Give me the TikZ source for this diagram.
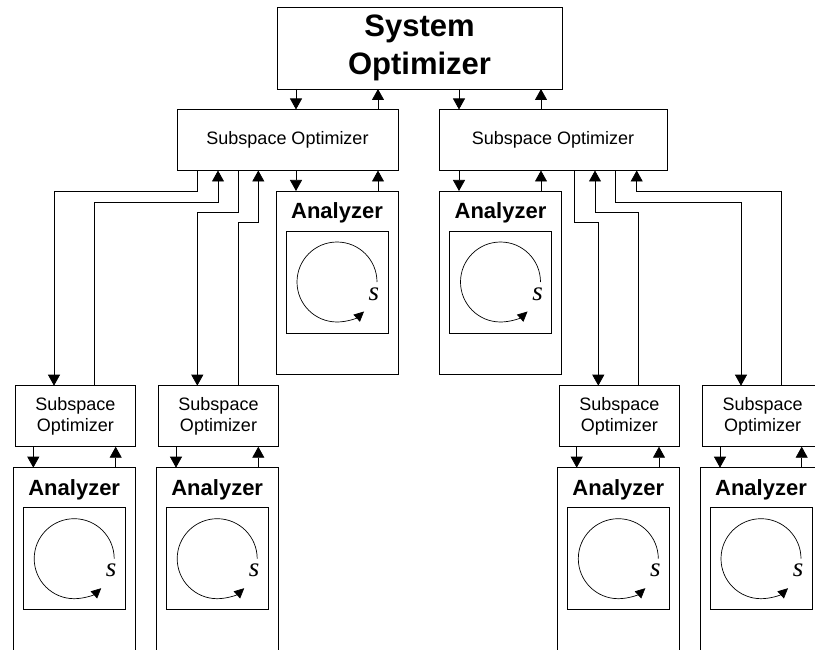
\documentclass[tikz,border=0pt]{standalone}
\usepackage{fontspec}
\setmainfont{Liberation Sans}
\newfontfamily\serifit{Liberation Serif}
\usetikzlibrary{arrows.meta,calc}

% one analyzer block: outer frame, title, inner frame with a looping arrow
% #1 name, #2 centre x, #3 top y, #4 height
\newcommand{\analyzerunit}[4]{%
  \node[box, minimum width=122pt, minimum height=#4pt, anchor=north] (#1) at (#2,#3) {};
  \node[anatitle] (#1t) at ($(#1.north)+(0,22)$) {Analyzer};
  \node[box, minimum width=102pt, minimum height=102pt] (#1c) at ($(#1.north)+(0,91)$) {};
  \draw[looparr] ($(#1c.center)+(40,0)$) arc[start angle=0, end angle=-312.5, radius=40];
  \node[slabel] (#1s) at ($(#1c.center)+(37,12)$) {s};
}

\begin{document}
\begin{tikzpicture}[x=1pt, y=-1pt, line width=0.75pt,
  box/.style={draw, inner sep=0pt, outer sep=0pt},
  bigtext/.style={font=\bfseries\fontsize{31}{38}\selectfont, align=center},
  subtext/.style={font=\fontsize{18}{21.7}\selectfont, align=center},
  anatitle/.style={font=\bfseries\fontsize{22}{26}\selectfont, inner sep=0pt},
  slabel/.style={font=\serifit\itshape\fontsize{27}{30}\selectfont, inner sep=0pt},
  arr/.style={-{Triangle[width=12pt,length=11pt]}},
  looparr/.style={line width=0.7pt, -{Triangle[width=9.5pt,length=10pt]}},
]
\path[use as bounding box, clip] (0,0) rectangle (815,650);

% optimizers
\node[box, minimum width=285pt, minimum height=82pt, bigtext] (sys) at (419.5,48) {System\\Optimizer};
\node[box, minimum width=221pt, minimum height=61pt, subtext] (subL) at (287.5,140) {Subspace Optimizer};
\node[box, minimum width=228pt, minimum height=61pt, subtext] (subR) at (553,140) {Subspace Optimizer};

\node[box, minimum width=120pt, minimum height=61pt, subtext] (sub1) at (75.3,416.2) {Subspace\\Optimizer};
\node[box, minimum width=120pt, minimum height=61pt, subtext] (sub2) at (218.5,416.2) {Subspace\\Optimizer};
\node[box, minimum width=120pt, minimum height=61pt, subtext] (sub3) at (619.3,416.2) {Subspace\\Optimizer};
\node[box, minimum width=120pt, minimum height=61pt, subtext] (sub4) at (762.7,416.2) {Subspace\\Optimizer};

% analyzers
\analyzerunit{anaL}{337}{191}{183}
\analyzerunit{anaR}{500.5}{191}{183}
\analyzerunit{ana1}{74.2}{467.7}{230}
\analyzerunit{ana2}{217.2}{467.7}{230}
\analyzerunit{ana3}{618.3}{467.7}{230}
\analyzerunit{ana4}{761}{467.7}{230}

% system <-> subspace optimizers
\draw[arr] (296,0 |- sys.south) -- (296,0 |- subL.north);
\draw[arr] (378,0 |- subL.north) -- (378,0 |- sys.south);
\draw[arr] (459,0 |- sys.south) -- (459,0 |- subR.north);
\draw[arr] (541,0 |- subR.north) -- (541,0 |- sys.south);

% upper subspace optimizers <-> their analyzers
\draw[arr] (296,0 |- subL.south) -- (296,0 |- anaL.north);
\draw[arr] (378,0 |- anaL.north) -- (378,0 |- subL.south);
\draw[arr] (459,0 |- subR.south) -- (459,0 |- anaR.north);
\draw[arr] (541,0 |- anaR.north) -- (541,0 |- subR.south);

% left branch
\draw[arr] (197.3,0 |- subL.south) |- (54,191.7) -- (54,0 |- sub1.north);
\draw[arr] (94.7,0 |- sub1.north) |- (218,202.3) -- (218,0 |- subL.south);
\draw[arr] (238,0 |- subL.south) |- (197.3,212.3) -- (197.3,0 |- sub2.north);
\draw[arr] (238,0 |- sub2.north) |- (258.3,222.3) -- (258.3,0 |- subL.south);

% right branch
\draw[arr] (574.3,0 |- subR.south) |- (598.3,222.3) -- (598.3,0 |- sub3.north);
\draw[arr] (638.7,0 |- sub3.north) |- (595,212.3) -- (595,0 |- subR.south);
\draw[arr] (615.7,0 |- subR.south) |- (741,202.3) -- (741,0 |- sub4.north);
\draw[arr] (781.7,0 |- sub4.north) |- (636.7,191.7) -- (636.7,0 |- subR.south);

% lower subspace optimizers <-> their analyzers
\draw[arr] (33.3,0 |- sub1.south) -- (33.3,0 |- ana1.north);
\draw[arr] (115.7,0 |- ana1.north) -- (115.7,0 |- sub1.south);
\draw[arr] (176,0 |- sub2.south) -- (176,0 |- ana2.north);
\draw[arr] (258.3,0 |- ana2.north) -- (258.3,0 |- sub2.south);
\draw[arr] (576.7,0 |- sub3.south) -- (576.7,0 |- ana3.north);
\draw[arr] (659,0 |- ana3.north) -- (659,0 |- sub3.south);
\draw[arr] (720,0 |- sub4.south) -- (720,0 |- ana4.north);
\draw[arr] (801.7,0 |- ana4.north) -- (801.7,0 |- sub4.south);
\end{tikzpicture}
\end{document}
